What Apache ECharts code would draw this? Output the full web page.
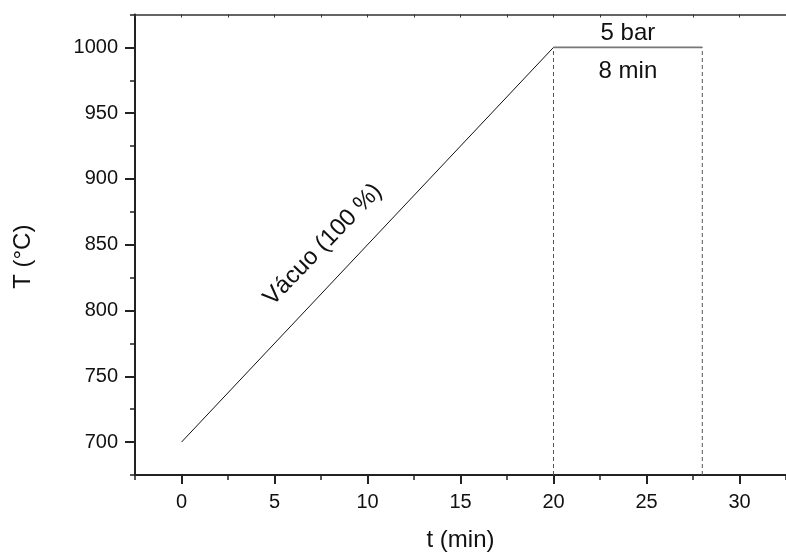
<!DOCTYPE html>
<html>
<head>
<meta charset="utf-8">
<script src="https://cdn.jsdelivr.net/npm/echarts@6/dist/echarts.min.js"></script>
<style>
  html, body { margin: 0; padding: 0; background: #fff; }
  #chart { width: 786px; height: 557px; }
</style>
</head>
<body>
<div id="chart"></div>
<script>
// Heating ramp under vacuum, then a hold at 5 bar
const rampTime = [0, 20];
const rampTemp = [700, 1000];
const holdTime = [20, 28];
const holdTemp = [1000, 1000];
const dropBase = 675;

// Axis ranges and labelled ticks
const xMin = -2.5, xMax = 32.5;
const yMin = 675, yMax = 1025;
const xTickLabels = [0, 5, 10, 15, 20, 25, 30];
const yTickLabels = [700, 750, 800, 850, 900, 950, 1000];

// Text annotations: [x, y, text]
const rampNote = [7.6, 850, 'Vácuo (100 %)'];
const holdNotes = [
  [24, 1011, '5 bar'],
  [24, 981.5, '8 min']
];

const FONT = 'Liberation Sans, Arial, Helvetica, sans-serif';
const INK = '#111';
const LINE = '#222';

const pairs = (xs, ys) => xs.map((x, i) => [x, ys[i]]);
const plain = v => String(v);

const chart = echarts.init(document.getElementById('chart'), null, { renderer: 'canvas' });

const baseX = {
  type: 'value', min: xMin, max: xMax, splitLine: { show: false }
};
const baseY = {
  type: 'value', min: yMin, max: yMax, splitLine: { show: false }
};

chart.setOption({
  animation: false,
  backgroundColor: '#fff',
  grid: { left: 135, top: 14.5, width: 659, height: 466.5, containLabel: false },
  xAxis: [
    Object.assign({}, baseX, {
      position: 'bottom',
      interval: 2.5,
      name: 't (min)',
      nameLocation: 'middle',
      nameGap: 53,
      nameTextStyle: { fontFamily: FONT, fontSize: 24, color: INK },
      axisLine: { show: true, onZero: false, lineStyle: { color: LINE, width: 2 } },
      axisTick: { show: true, inside: false, length: 5, lineStyle: { color: LINE, width: 1.5 } },
      axisLabel: {
        show: true, margin: 17, fontFamily: FONT, fontSize: 20, color: INK,
        customValues: xTickLabels, formatter: plain
      }
    }),
    Object.assign({}, baseX, {
      position: 'bottom',
      axisLine: { show: false, onZero: false },
      axisTick: { show: true, inside: false, length: 9, lineStyle: { color: LINE, width: 2 }, customValues: xTickLabels },
      axisLabel: { show: false }
    }),
    Object.assign({}, baseX, {
      position: 'top',
      interval: 2.5,
      axisLine: { show: true, onZero: false, lineStyle: { color: '#333', width: 1.5 } },
      axisTick: { show: true, inside: true, length: 3, lineStyle: { color: '#333', width: 1 } },
      axisLabel: { show: false }
    })
  ],
  yAxis: [
    Object.assign({}, baseY, {
      position: 'left',
      interval: 25,
      name: 'T (°C)',
      nameLocation: 'middle',
      nameGap: 100,
      nameTextStyle: { fontFamily: FONT, fontSize: 24, color: INK, padding: [0, 24, 0, 0] },
      axisLine: { show: true, onZero: false, lineStyle: { color: LINE, width: 2 } },
      axisTick: { show: true, inside: false, length: 5, lineStyle: { color: LINE, width: 1.5 } },
      axisLabel: {
        show: true, margin: 17, fontFamily: FONT, fontSize: 20, color: INK,
        customValues: yTickLabels, formatter: plain
      }
    }),
    Object.assign({}, baseY, {
      position: 'left',
      offset: 0,
      axisLine: { show: false, onZero: false },
      axisTick: { show: true, inside: false, length: 10, lineStyle: { color: LINE, width: 2 }, customValues: yTickLabels },
      axisLabel: { show: false }
    })
  ],
  series: [
    {
      name: 'ramp', type: 'line', xAxisIndex: 0, yAxisIndex: 0,
      data: pairs(rampTime, rampTemp), symbol: 'none',
      lineStyle: { color: '#111', width: 1 }
    },
    {
      name: 'hold', type: 'line', xAxisIndex: 0, yAxisIndex: 0,
      data: pairs(holdTime, holdTemp), symbol: 'none',
      lineStyle: { color: '#777', width: 1.6 }
    },
    {
      name: 'hold start', type: 'line', xAxisIndex: 0, yAxisIndex: 0,
      data: [[holdTime[0], dropBase], [holdTime[0], holdTemp[0]]], symbol: 'none',
      lineStyle: { color: '#555', width: 1, type: [4, 3] }
    },
    {
      name: 'hold end', type: 'line', xAxisIndex: 0, yAxisIndex: 0,
      data: [[holdTime[1], dropBase], [holdTime[1], holdTemp[1]]], symbol: 'none',
      lineStyle: { color: '#555', width: 1, type: [4, 3] }
    },
    {
      name: 'hold notes', type: 'scatter', xAxisIndex: 0, yAxisIndex: 0,
      data: holdNotes, symbolSize: 0, silent: true,
      itemStyle: { opacity: 1 },
      label: {
        show: true, position: 'inside', formatter: p => p.data[2],
        fontFamily: FONT, fontSize: 24, color: INK, opacity: 1
      }
    },
    {
      name: 'ramp note', type: 'scatter', xAxisIndex: 0, yAxisIndex: 0,
      data: [rampNote], symbolSize: 0, silent: true,
      itemStyle: { opacity: 1 },
      label: {
        show: true, position: 'inside', rotate: 46, formatter: p => p.data[2],
        fontFamily: FONT, fontSize: 24, color: INK, opacity: 1
      }
    }
  ]
});
</script>
</body>
</html>
